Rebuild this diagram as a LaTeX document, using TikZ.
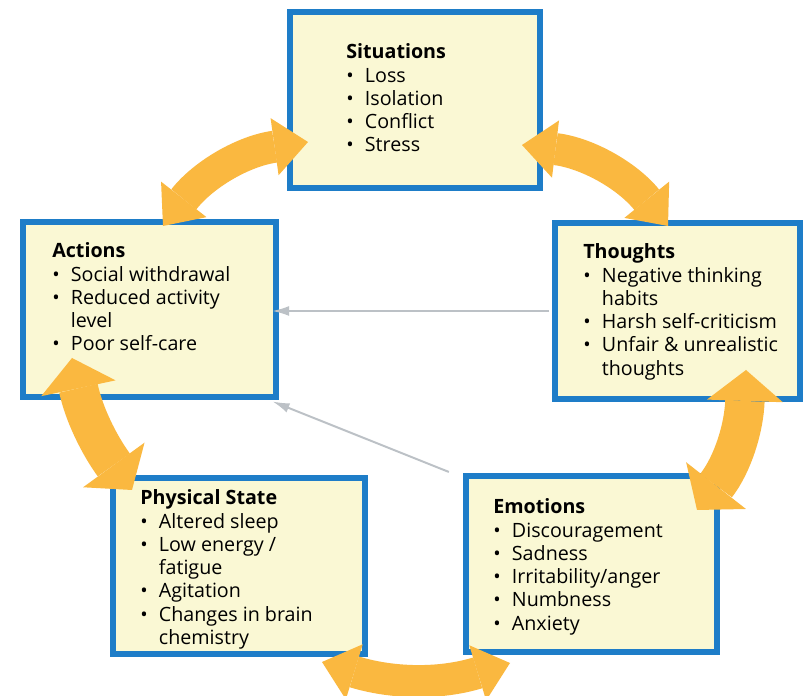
\documentclass[tikz,border=0pt]{standalone}
\usepackage{fontspec}
\setmainfont{Open Sans}
\usetikzlibrary{arrows.meta}

\definecolor{panelblue}{RGB}{30,125,200}
\definecolor{panelfill}{RGB}{250,248,212}
\definecolor{cycleorange}{RGB}{250,184,64}
\definecolor{linkgrey}{RGB}{188,193,198}

% one bullet line in a list
\newcommand{\itm}{\textbullet &}
% heading plus bullet lines
\newcommand{\panellist}[2]{\begin{tabular}[t]{@{}l@{\hspace{8pt}}l@{}}\multicolumn{2}{@{}l@{}}{\textbf{#1}}\\#2\end{tabular}}

\begin{document}
\begin{tikzpicture}[x=0.025cm,y=0.025cm,
  panel/.style={draw=panelblue,line width=4.3pt,fill=panelfill,inner sep=0pt,
    minimum width=6.25cm,minimum height=4.4cm},
  listtext/.style={anchor=base west,inner sep=0pt,font=\fontsize{14}{16.5}\selectfont},
  cyclearrow/.style={draw=cycleorange,line width=22.8pt,
    {Triangle[width=41pt,length=24pt,line width=0pt]}-{Triangle[width=41pt,length=24pt,line width=0pt]}},
  cyclewide/.style={draw=cycleorange,line width=28pt,
    {Triangle[width=54pt,length=22pt,line width=0pt]}-{Triangle[width=54pt,length=22pt,line width=0pt]}},
  linkarrow/.style={draw=linkgrey,line width=1.4pt,-{Latex[length=12pt,width=7pt]}}]

\fill[white] (0,0) rectangle (804,696);
\useasboundingbox (0,0) rectangle (804,696);

%situations
\node[panel] (sit) at (415,596) {};
\node[listtext] (sittxt) at (346,637) {\panellist{Situations}{%
  \itm Loss\\ \itm Isolation\\ \itm Conflict\\ \itm Stress}};

%actions
\node[panel,minimum width=6.33cm,minimum height=4.38cm] (act) at (149.5,386.5) {};
\node[listtext] (acttxt) at (52,438) {\panellist{Actions}{%
  \itm Social withdrawal\\ \itm Reduced activity\\ & level\\ \itm Poor self-care}};

%thoughts
\node[panel,minimum width=6.13cm] (tho) at (677.5,385) {};
\node[listtext] (thotxt) at (583,437) {\panellist{Thoughts}{%
  \itm Negative thinking\\ & habits\\ \itm Harsh self-criticism\\
  \itm Unfair \& unrealistic\\ & thoughts}};

%physical state
\node[panel,minimum width=6.3cm] (phy) at (239,130) {};
\node[listtext] (phytxt) at (140,191) {\panellist{Physical State}{%
  \itm Altered sleep\\ \itm Low energy /\\ & fatigue\\ \itm Agitation\\
  \itm Changes in brain\\ & chemistry}};

%emotions
\node[panel,minimum width=6.28cm] (emo) at (591.5,132) {};
\node[listtext] (emotxt) at (493,182) {\panellist{Emotions}{%
  \itm Discouragement\\ \itm Sadness\\ \itm Irritability/anger\\
  \itm Numbness\\ \itm Anxiety}};

%grey links into actions
\draw[linkarrow,shorten <=2pt,shorten >=-5pt] (tho.west) -- (act.east |- tho.west);
\draw[linkarrow,shorten >=-5pt]
  ([shift={(-14,1)}]emo.north west) -- ([shift={(0,-4)}]act.south east);

%cycle
\coordinate (a1) at (163,470);
\coordinate (a2) at (308,554);
\coordinate (b1) at (522,551);
\coordinate (b2) at (668,470);
\coordinate (c1) at (746,326);
\coordinate (c2) at (697,186);
\coordinate (d1) at (72,338);
\coordinate (d2) at (132,206);
\coordinate (e1) at (322,34);
\coordinate (e2) at (510,33);

\draw[cyclearrow] (a1) to[out=52,in=188] (a2);
\draw[cyclearrow] (b1) to[out=-7,in=129] (b2);
\draw[cyclewide] (c1) to[out=268,in=52] (c2);
\draw[cyclewide] (d1) to[out=-78,in=126] (d2);
\draw[cyclearrow] (e1) to[out=-17,in=197] (e2);

\end{tikzpicture}
\end{document}
